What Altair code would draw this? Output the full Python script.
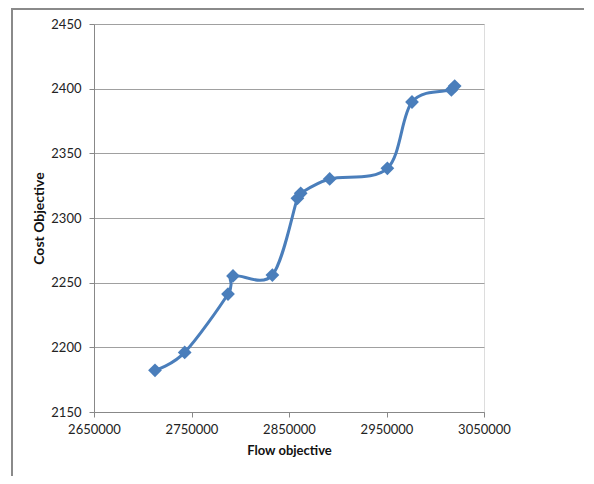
import altair as alt
import pandas as pd

flow = [2712560, 2743020, 2787430, 2792560, 2832960, 2858600, 2862000,
        2891730, 2950900, 2976140, 3016540, 3019930]
cost = [2182.2, 2196.1, 2241.2, 2255.2, 2255.9, 2315.2, 2319.1,
        2330.2, 2338.4, 2389.7, 2399.0, 2402.0]

df = pd.DataFrame({"flow": flow, "cost": cost})

FONT = "Lato"
BLUE = "#4A7EBB"

x = alt.X("flow:Q", title="Flow objective",
          scale=alt.Scale(domain=[2650000, 3050000], nice=False, zero=False),
          axis=alt.Axis(values=[2650000, 2750000, 2850000, 2950000, 3050000],
                        format="d", grid=False, domainColor="#888888",
                        tickColor="#888888", tickSize=5, labelPadding=6,
                        labelFontSize=13, labelColor="#222222",
                        labelOverlap=False, labelFlush=False,
                        titleFontSize=13, titleFontWeight="bold",
                        titleColor="#111111", titlePadding=8))
y = alt.Y("cost:Q", title="Cost Objective",
          scale=alt.Scale(domain=[2150, 2450], nice=False, zero=False),
          axis=alt.Axis(values=[2150, 2200, 2250, 2300, 2350, 2400, 2450],
                        format="d", grid=True, gridColor="#A0A0A0",
                        gridWidth=1, domainColor="#888888",
                        tickColor="#888888", tickSize=5, labelPadding=8,
                        labelFontSize=13, labelColor="#222222",
                        labelOverlap=False, labelFlush=False,
                        titleFontSize=14, titleFontWeight="bold",
                        titleColor="#111111", titlePadding=4))

line = alt.Chart(df).mark_line(interpolate="cardinal", color=BLUE,
                               strokeWidth=3).encode(x=x, y=y)
pts = alt.Chart(df).mark_point(shape="diamond", filled=True, color=BLUE,
                               size=190, opacity=1).encode(x=x, y=y)

frame = alt.Chart(df).mark_rect(filled=False, stroke="#8A8A8A",
                                strokeWidth=1.5, fillOpacity=0,
                                clip=False).encode(
    x=alt.value(-82), x2=alt.value(530),
    y=alt.value(-15), y2=alt.value(500))

chart = alt.layer(line, pts, frame).properties(
    width=390, height=388,
    autosize=alt.AutoSizeParams(type="none"),
    padding={"left": 86, "top": 16, "right": 100, "bottom": 64},
).configure_view(stroke=None).configure(font=FONT)

chart.save("out.html", embed_options={"renderer": "svg", "actions": False})
